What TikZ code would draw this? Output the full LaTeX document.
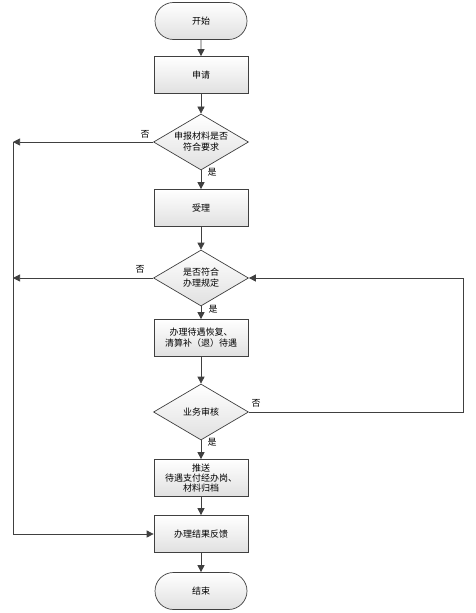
\documentclass[tikz,border=0pt]{standalone}
\usepackage{fontspec}
\setmainfont{Noto Sans CJK SC}
\usetikzlibrary{shapes.geometric,arrows.meta}
\definecolor{edge}{HTML}{404040}
\tikzset{
  base/.style={draw=edge, line width=0.7pt, top color=white, bottom color=black!12, font=\fontsize{9}{11}\selectfont, align=center, inner sep=1pt},
  term/.style={base, rounded rectangle, minimum width=94pt, minimum height=37pt},
  proc/.style={base, rectangle, minimum width=94pt, minimum height=37pt},
  dec/.style={base, diamond, minimum width=95pt, minimum height=56pt, aspect=1.7},
  conn/.style={draw=edge, line width=0.7pt, -{Triangle[width=7pt,length=7pt]}},
  line/.style={draw=edge, line width=0.7pt},
  lab/.style={font=\fontsize{9}{11}\selectfont, inner sep=0pt}
}
\usetikzlibrary{shapes.misc}
\begin{document}
\begin{tikzpicture}[x=1pt,y=-1pt]
\useasboundingbox (0,0) rectangle (475,613);
\node[term] (start) at (201,21) {开始};
\node[proc] (apply) at (201,75) {申请};
\node[dec, minimum height=56pt] (d1) at (201,142) {申报材料是否\\符合要求};
\node[proc] (accept) at (201,208) {受理};
\node[dec] (d2) at (201,278) {是否符合\\办理规定};
\node[proc] (restore) at (201,338) {办理待遇恢复、\\清算补（退）待遇};
\node[dec] (d3) at (201,412) {业务审核};
\node[proc, font=\fontsize{9}{10}\selectfont] (push) at (201,478) {推送\\待遇支付经办岗、\\材料归档};
\node[proc] (feedback) at (201,534) {办理结果反馈};
\node[term] (end) at (201,591) {结束};
\coordinate (l1) at (13,142);
\coordinate (l2) at (13,278);
\coordinate (lb) at (13,534);
\coordinate (r3) at (463,412);
\coordinate (r2) at (463,278);
\draw[conn] (start) -- (apply);
\draw[conn] (apply) -- (d1);
\draw[conn] (d1) -- (accept);
\draw[conn] (accept) -- (d2);
\draw[conn] (d2) -- (restore);
\draw[conn] (restore) -- (d3);
\draw[conn] (d3) -- (push);
\draw[conn] (push) -- (feedback);
\draw[conn] (feedback) -- (end);
\draw[conn] (d1.west) -- (l1);
\draw[conn] (d2.west) -- (l2);
\draw[line] (l1) -- (lb);
\draw[conn] (lb) -- (feedback.west);
\draw[line] (d3.east) -- (r3) -- (r2);
\draw[conn] (r2) -- (d2.east);
\node[lab] (n1) at (145,134) {否};
\node[lab] (y1) at (212,172) {是};
\node[lab] (n2) at (140,269) {否};
\node[lab] (y2) at (213,309) {是};
\node[lab] (n3) at (256,403) {否};
\node[lab] (y3) at (212,442) {是};
\end{tikzpicture}
\end{document}
